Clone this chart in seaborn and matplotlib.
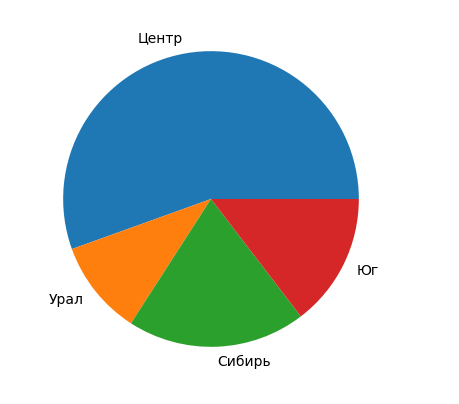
import matplotlib
matplotlib.use("Agg")
import matplotlib.pyplot as plt
import seaborn as sns

regions = ["Центр", "Урал", "Сибирь", "Юг"]
values = [55.5, 10.4, 19.5, 14.6]

plt.rcParams['font.family'] = ['DejaVu Sans']
colors = sns.color_palette("tab10", 4)

fig = plt.figure(figsize=(4.59, 4.04), dpi=100)
ax = fig.add_axes([26.2/459, (404-383.8)/404, 369.6/459, 369.6/404])
ax.pie(values, labels=regions, colors=colors,
       textprops={'fontsize': 10, 'color': 'black'},
       wedgeprops={'linewidth': 0})
fig.savefig("out.png", dpi=100)
